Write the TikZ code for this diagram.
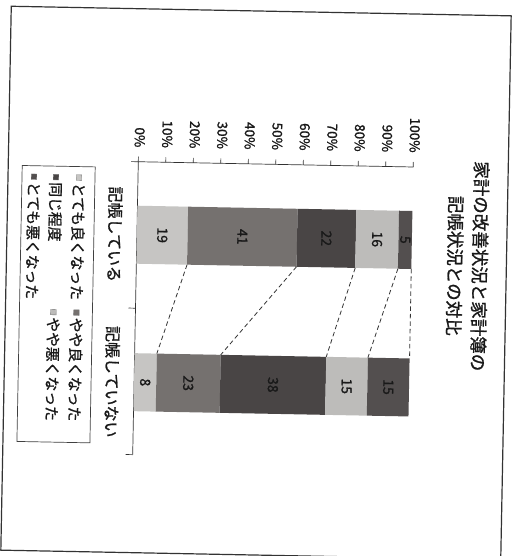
\documentclass[tikz,border=0pt]{standalone}
\usepackage{fontspec}
\setmainfont{Noto Sans CJK JP}[FakeBold=1.2]
\usepackage{tikz}
\definecolor{VeryGood}{HTML}{C6C5C3}
\definecolor{Good}{HTML}{75716F}
\definecolor{Same}{HTML}{494545}
\definecolor{Bad}{HTML}{BDBCBA}
\definecolor{VeryBad}{HTML}{534F4F}
\tikzset{
  vtext/.style={rotate=-90, transform shape, inner sep=0pt, text=black!90},
  series/.style={black!80, dash pattern=on 4.5pt off 3pt, line width=0.8pt},
  key/.style={draw=black!55, line width=0.3pt, minimum size=5.5pt, inner sep=0pt, transform shape}
}

\begin{document}
\begin{tikzpicture}[x=1pt, y=-1pt]
\newcommand{\xo}{136}
\newcommand{\len}{275}
\newcommand{\ya}{164}
\newcommand{\yend}{457}
\newcommand{\bw}{29}
\newcommand{\yt}{237}
\newcommand{\yn}{384.5}
\useasboundingbox (0, 0) rectangle (512, 556);
\fill[white] (0, 0) rectangle (512, 556);
\begin{scope}[rotate around={-1.1:(256, 283)}]
  \draw[black!80, line width=1.2pt] (6, 11) rectangle (506, 555);
  \begin{scope}[black!80, line width=0.7pt]
    \draw (\xo, \yend) -- (\xo, \ya) -- (\xo+\len, \ya);
    \foreach \p in {0, 10, ..., 100} {
      \draw (\xo+\p/100*\len, \ya) -- ++(0, -5);
      \node[vtext, anchor=east, font=\fontsize{13.5}{14}\selectfont] (pct\p) at (\xo+\p/100*\len+1, \ya-14) {\p\%};
    }
    \foreach \y in {\ya, 310.5, \yend}
      \draw (\xo, \y) -- ++(-7, 0);
  \end{scope}
  \foreach \v/\c [count=\i, remember=\e as \s (initially 0), evaluate=\v as \e using \s+\v] in {19/VeryGood, 41/Good, 22/Same, 16/Bad, 5/VeryBad} {
    \fill[\c] (\xo+\s/103*\len, \yt-\bw) rectangle (\xo+\e/103*\len, \yt+\bw);
    \node[vtext, font=\fontsize{14}{14}\selectfont] (with\i) at (\xo+\s/206*\len+\e/206*\len, \yt) {\v};
    \coordinate (withend\i) at (\xo+\e/103*\len, \yt+\bw);
  }
  \foreach \v/\c [count=\i, remember=\e as \s (initially 0), evaluate=\v as \e using \s+\v] in {8/VeryGood, 23/Good, 38/Same, 15/Bad, 15/VeryBad} {
    \fill[\c] (\xo+\s/99*\len, \yn-\bw) rectangle (\xo+\e/99*\len, \yn+\bw);
    \node[vtext, font=\fontsize{14}{14}\selectfont] (without\i) at (\xo+\s/198*\len+\e/198*\len, \yn) {\v};
    \coordinate (withoutend\i) at (\xo+\e/99*\len, \yn-\bw);
  }
  \foreach \i in {1, ..., 5}
    \draw[series] (withend\i) -- (withoutend\i);
  \node[vtext, font=\fontsize{16}{16}\selectfont] (catwith) at (114, \yt) {記帳している};
  \node[vtext, font=\fontsize{16}{16}\selectfont] (catwithout) at (114, \yn) {記帳していない};
  \node[vtext, align=center, font=\fontsize{17.5}{25}\selectfont] (title) at (467, 262) {家計の改善状況と家計簿の\\記帳状況との対比};
  \draw[black!75, line width=0.7pt] (20, 170) rectangle (93, 446);
  \foreach \x/\y/\c/\t [count=\i] in {77/181/VeryGood/とても良くなった, 77/316/Good/やや良くなった, 54/181/Same/同じ程度, 54/316/Bad/やや悪くなった, 32/181/VeryBad/とても悪くなった} {
    \node[key, fill=\c] (key\i) at (\x, \y) {};
    \node[vtext, anchor=west, font=\fontsize{14.8}{15}\selectfont] (name\i) at (\x, \y+5) {\t};
  }
\end{scope}
\end{tikzpicture}
\end{document}
